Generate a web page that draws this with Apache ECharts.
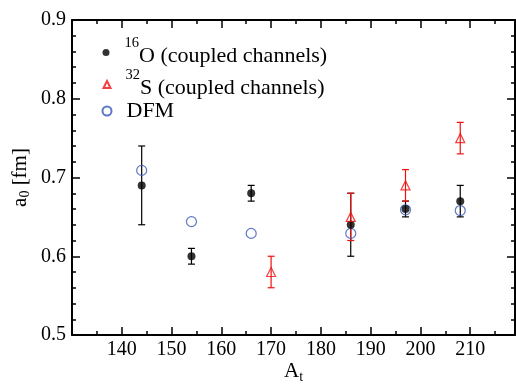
<!DOCTYPE html>
<html><head><meta charset="utf-8">
<script src="https://cdn.jsdelivr.net/npm/echarts@6/dist/echarts.min.js"></script>
<style>html,body{margin:0;padding:0;background:#fff}#c{width:516px;height:384px}</style>
</head><body><div id="c"></div>
<script>
// ---- data ----
const xMajorTicks = [140, 150, 160, 170, 180, 190, 200, 210];
const xMinorTicks = [135, 145, 155, 165, 175, 185, 195, 205, 215];
const oA    = [144, 154, 166, 186, 197, 208];
const oVal  = [0.69, 0.60, 0.68, 0.64, 0.66, 0.67];
const oLow  = [0.64, 0.59, 0.67, 0.60, 0.65, 0.65];
const oHigh = [0.74, 0.61, 0.69, 0.68, 0.67, 0.69];
const sA    = [170, 186, 197, 208];
const sVal  = [0.58, 0.65, 0.69, 0.75];
const sLow  = [0.56, 0.62, 0.67, 0.73];
const sHigh = [0.60, 0.68, 0.71, 0.77];
const dA    = [144, 154, 166, 186, 197, 208];
const dVal  = [0.709, 0.644, 0.629, 0.629, 0.659, 0.658];

const F = '"Liberation Serif", "Times New Roman", serif';
const BLACK = '#000', RED = '#f01010', BLUE = '#3656b8';

function pairs(xs, ys) { return xs.map((x, i) => [x, ys[i]]); }
function triples(xs, lo, hi) { return xs.map((x, i) => [x, lo[i], hi[i]]); }

function errRender(color) {
  return function (params, api) {
    const x = api.value(0), lo = api.value(1), hi = api.value(2);
    const p1 = api.coord([x, lo]), p2 = api.coord([x, hi]);
    const hw = 3.5;
    const st = { stroke: color, lineWidth: 1.2 };
    return { type: 'group', children: [
      { type: 'line', shape: { x1: p1[0], y1: p1[1], x2: p2[0], y2: p2[1] }, style: st },
      { type: 'line', shape: { x1: p1[0] - hw, y1: p1[1], x2: p1[0] + hw, y2: p1[1] }, style: st },
      { type: 'line', shape: { x1: p2[0] - hw, y1: p2[1], x2: p2[0] + hw, y2: p2[1] }, style: st }
    ]};
  };
}

const richLegend = {
  sup: { fontFamily: F, fontSize: 14.5, color: '#000', padding: [0, 0, 18, 10] },
  t: { fontFamily: F, fontSize: 22, color: '#000', lineHeight: 24, padding: [8, 0, 0, 0] },
  p: { fontFamily: F, fontSize: 22, color: '#000', lineHeight: 24, padding: [0, 0, 0, 10] }
};
function mkLegend(name, left, top, size, fmt) {
  return {
    data: [name], left: left, top: top, orient: 'vertical', padding: 0,
    itemWidth: size, itemHeight: size, selectedMode: false,
    formatter: fmt, textStyle: { rich: richLegend }
  };
}

const tickStyle = { color: '#000', width: 1.5 };
const lineStyle = { color: '#000', width: 2 };

function xAx(pos, major) {
  return {
    type: 'value', position: pos, min: 130, max: 219,
    axisLine: { show: major, lineStyle: lineStyle, onZero: false },
    axisTick: { show: true, inside: true, length: major ? 8 : 4, lineStyle: tickStyle,
                customValues: major ? xMajorTicks : xMinorTicks },
    axisLabel: { show: major && pos === 'bottom', customValues: xMajorTicks, margin: 5,
                 fontFamily: F, fontSize: 20, color: '#000' },
    splitLine: { show: false },
    name: (major && pos === 'bottom') ? '{a|A}{s|t}' : '',
    nameLocation: 'middle', nameGap: 23, nameMoveOverlap: false,
    nameTextStyle: { rich: {
      a: { fontFamily: F, fontSize: 21, color: '#000', lineHeight: 24 },
      s: { fontFamily: F, fontSize: 14, color: '#000', padding: [12, 0, 0, 0] }
    } }
  };
}
function yAx(pos) {
  return {
    type: 'value', position: pos, min: 0.5, max: 0.9, interval: 0.1,
    axisLine: { show: true, lineStyle: lineStyle, onZero: false },
    axisTick: { show: true, inside: true, length: 8, lineStyle: tickStyle },
    minorTick: { show: true, splitNumber: 5, length: 4, lineStyle: tickStyle },
    axisLabel: { show: pos === 'left', margin: 6, fontFamily: F, fontSize: 20, color: '#000',
                 formatter: v => v.toFixed(1) },
    splitLine: { show: false },
    name: pos === 'left' ? '{a|a}{s|0}{a| [fm]}' : '',
    nameLocation: 'middle', nameGap: 40, nameRotate: 90, nameMoveOverlap: false,
    nameTextStyle: { rich: {
      a: { fontFamily: F, fontSize: 21, color: '#000', lineHeight: 24 },
      s: { fontFamily: F, fontSize: 14, color: '#000', padding: [10, 0, 0, 0] }
    } }
  };
}

const chart = echarts.init(document.getElementById('c'), null, { renderer: 'canvas' });
chart.setOption({
  animation: false,
  backgroundColor: '#fff',
  grid: { left: 72, top: 20, right: 1, bottom: 49, containLabel: false, outerBoundsMode: 'none' },
  xAxis: [xAx('bottom', true), xAx('top', true), xAx('bottom', false), xAx('top', false)],
  yAxis: [yAx('left'), yAx('right')],
  legend: [
    mkLegend('O', 102.5, 36, 7, () => '{sup|16}{t|O (coupled channels)}'),
    mkLegend('S', 102.5, 68, 7, () => '{sup|32}{t|S (coupled channels)}'),
    mkLegend('DFM', 101.5, 100, 9, () => '{p|DFM}')
  ],
  series: [
    { type: 'custom', name: 'errO', renderItem: errRender(BLACK), data: triples(oA, oLow, oHigh),
      encode: { x: 0, y: [1, 2] }, z: 1, silent: true },
    { type: 'custom', name: 'errS', renderItem: errRender(RED), data: triples(sA, sLow, sHigh),
      encode: { x: 0, y: [1, 2] }, z: 1, silent: true },
    { type: 'scatter', name: 'DFM', data: pairs(dA, dVal), symbol: 'circle', symbolSize: 10, z: 2,
      itemStyle: { color: 'rgba(255,255,255,0)', borderColor: BLUE, borderWidth: 1.2 } },
    { type: 'scatter', name: 'O', data: pairs(oA, oVal), symbol: 'circle', symbolSize: 8, z: 3,
      itemStyle: { color: BLACK } },
    { type: 'scatter', name: 'S', data: pairs(sA, sVal), symbol: 'triangle', symbolSize: 9, z: 4,
      itemStyle: { color: 'rgba(255,255,255,0)', borderColor: RED, borderWidth: 1.2 } }
  ]
});
</script></body></html>
